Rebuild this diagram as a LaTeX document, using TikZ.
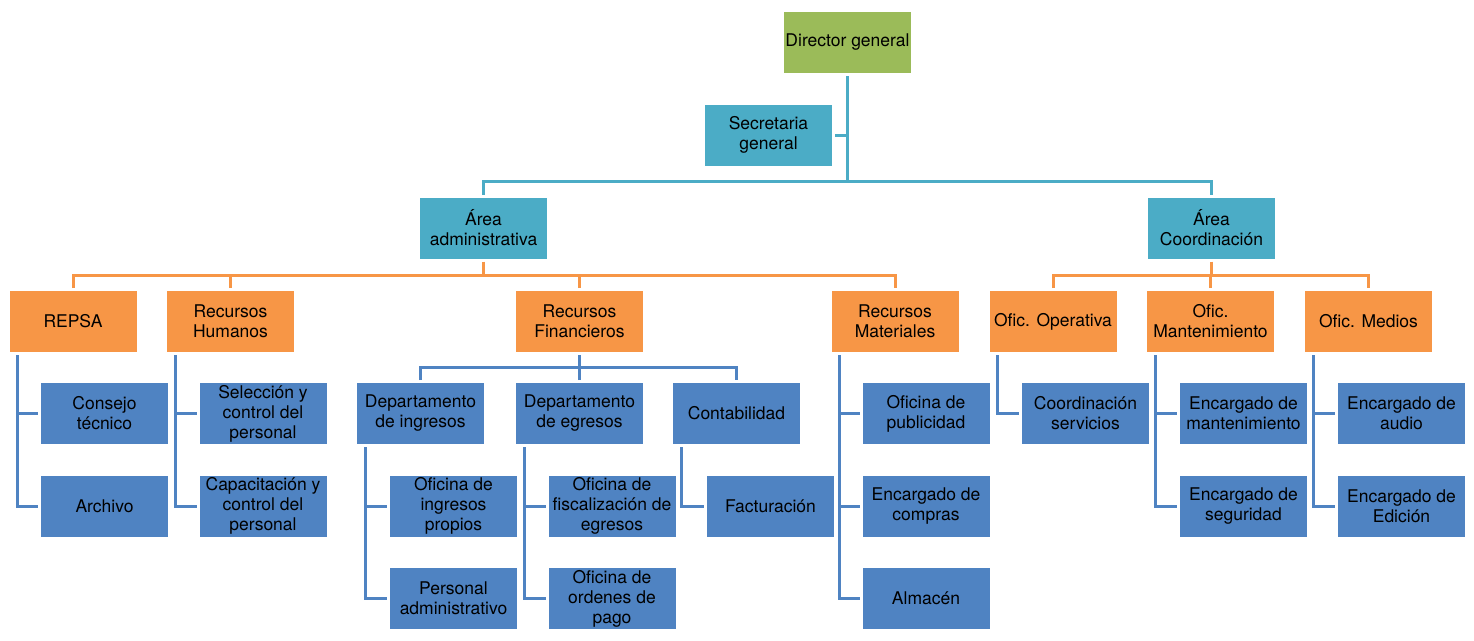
\documentclass[tikz,border=0pt]{standalone}
\usepackage{fontspec}
\setmainfont{TeX Gyre Heros}
\usetikzlibrary{positioning}

\definecolor{dirgreen}{HTML}{9BBB59}
\definecolor{areateal}{HTML}{4BACC6}
\definecolor{unitorange}{HTML}{F79646}
\definecolor{officeblue}{HTML}{4F83C2}

\tikzset{
    box/.style = {rectangle, minimum width=127pt, minimum height=61pt,
        inner sep=0pt, outer sep=3pt, align=center,
        font=\fontsize{17.5}{20}\selectfont},
    dirbox/.style = {box, fill=dirgreen},
    areabox/.style = {box, fill=areateal},
    unitbox/.style = {box, fill=unitorange},
    officebox/.style = {box, fill=officeblue},
    link/.style = {line width=3pt},
}

\begin{document}
\begin{tikzpicture}[x=1pt, y=-1pt]
    \useasboundingbox (0,0) rectangle (1474,640);

    % direccion
    \node[dirbox] (dir) at (847.5,42.5) {Director general};
    \node[areabox] (sec) at (768.5,135) {Secretaria\\general};
    \node[areabox] (adm) at (483.5,228) {Área\\administrativa};
    \node[areabox] (coo) at (1211.5,228) {Área\\Coordinación};

    % unidades
    \node[unitbox] (repsa) at (73,321.5) {REPSA};
    \node[unitbox] (rh) at (230.5,321.5) {Recursos\\Humanos};
    \node[unitbox] (rf) at (579.5,321.5) {Recursos\\Financieros};
    \node[unitbox] (rm) at (895,321.5) {Recursos\\Materiales};
    \node[unitbox] (op) at (1053,321.5) {Ofic. Operativa};
    \node[unitbox] (mant) at (1210.5,321.5) {Ofic.\\Mantenimiento};
    \node[unitbox] (med) at (1368.5,321.5) {Ofic. Medios};

    % departamentos de financieros
    \node[officebox] (ding) at (420.5,413.5) {Departamento\\de ingresos};
    \node[officebox] (degr) at (579.5,413.5) {Departamento\\de egresos};
    \node[officebox] (cont) at (736.5,413.5) {Contabilidad};

    % oficinas
    \node[officebox] (cons) at (104.5,413.5) {Consejo\\técnico};
    \node[officebox] (arch) at (104.5,506) {Archivo};
    \node[officebox] (sel) at (263,413.5) {Selección y\\control del\\personal};
    \node[officebox] (cap) at (263,506) {Capacitación y\\control del\\personal};
    \node[officebox] (oip) at (453.5,506) {Oficina de\\ingresos\\propios};
    \node[officebox] (pad) at (453.5,598.5) {Personal\\administrativo};
    \node[officebox] (ofe) at (612,506) {Oficina de\\fiscalización de\\egresos};
    \node[officebox] (oop) at (612,598.5) {Oficina de\\ordenes de\\pago};
    \node[officebox] (fac) at (770.5,506) {Facturación};
    \node[officebox] (opub) at (926,413.5) {Oficina de\\publicidad};
    \node[officebox] (ecomp) at (926,506) {Encargado de\\compras};
    \node[officebox] (alm) at (926,598.5) {Almacén};
    \node[officebox] (cser) at (1085.5,413.5) {Coordinación\\servicios};
    \node[officebox] (eman) at (1243.5,413.5) {Encargado de\\mantenimiento};
    \node[officebox] (eseg) at (1243.5,506) {Encargado de\\seguridad};
    \node[officebox] (eaud) at (1401.5,413.5) {Encargado de\\audio};
    \node[officebox] (eedi) at (1401.5,506) {Encargado de\\Edición};

    % lineas de mando
    \begin{scope}[link, areateal]
        \draw (dir.south) -- (dir |- 0,181);
        \draw (sec.east) -- (dir |- sec.east);
        \draw (adm.north) -- (adm |- 0,181) -- (coo |- 0,181) -- (coo.north);
    \end{scope}
    \begin{scope}[link, unitorange]
        \draw (adm.south) -- (adm |- 0,275);
        \draw (repsa.north) -- (repsa |- 0,275) -- (rm |- 0,275) -- (rm.north);
        \draw (rh.north) -- (rh |- 0,275);
        \draw (rf.north) -- (rf |- 0,275);
        \draw (coo.south) -- (coo |- 0,275);
        \draw (op.north) -- (op |- 0,275) -- (med |- 0,275) -- (med.north);
        \draw (mant.north) -- (mant |- 0,275);
    \end{scope}
    \begin{scope}[link, officeblue]
        \draw (rf.south) -- (rf |- 0,367);
        \draw (ding.north) -- (ding |- 0,367) -- (cont |- 0,367) -- (cont.north);
        \draw (degr.north) -- (degr |- 0,367);
        % ramas laterales
        \foreach \p/\c in {repsa/cons, repsa/arch, rh/sel, rh/cap,
                ding/oip, ding/pad, degr/ofe, degr/oop, cont/fac,
                rm/opub, rm/ecomp, rm/alm, op/cser, mant/eman, mant/eseg,
                med/eaud, med/eedi}
            \draw ([xshift=11pt]\p.south west) |- (\c.west);
    \end{scope}
\end{tikzpicture}
\end{document}
